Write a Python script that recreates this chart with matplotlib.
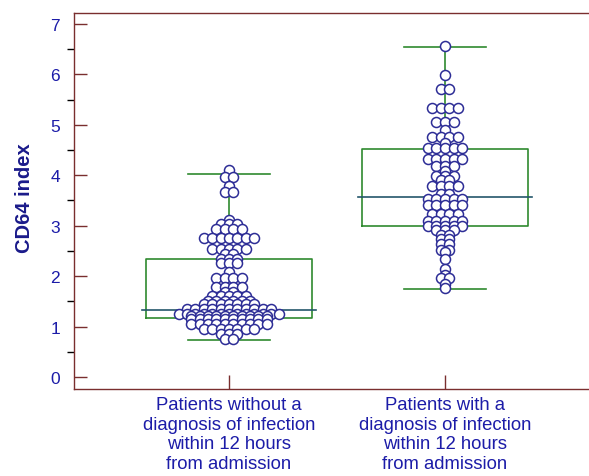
import numpy as np
import matplotlib
matplotlib.use("Agg")
import matplotlib.pyplot as plt

plt.rcParams["font.family"] = ["Liberation Sans", "DejaVu Sans"]

# CD64 index values; equal values share one row of dots
no_infection = (
    [4.11] + [3.97] * 2 + [3.79] + [3.67] * 2 + [3.11]
    + [3.03] * 3 + [2.93] * 4 + [2.75] * 7 + [2.54] * 5
    + [2.44] * 2 + [2.34] * 3 + [2.27] * 3 + [2.09]
    + [1.96] * 4 + [1.78] * 4 + [1.68] * 2 + [1.60] * 5
    + [1.51] * 6 + [1.45] * 7 + [1.35] * 11 + [1.25] * 13
    + [1.20] * 10 + [1.15] * 10 + [1.05] * 10 + [0.95] * 7
    + [0.85] * 3 + [0.75] * 2
)
with_infection = (
    [6.56, 5.99] + [5.71] * 2 + [5.33] * 4 + [5.05] * 3 + [4.90]
    + [4.75] * 4 + [4.65] + [4.54] * 5 + [4.32] * 5 + [4.19] * 3
    + [4.09] + [3.99] * 3 + [3.91] * 2 + [3.79] * 4 + [3.63] * 2
    + [3.53] * 5 + [3.42] * 5 + [3.23] * 4 + [3.10] * 5
    + [3.00] * 5 + [2.92] * 3 + [2.82] * 2 + [2.74] * 2 + [2.64] * 2
    + [2.52] * 2 + [2.47, 2.33, 2.14, 2.03] + [1.96] * 2 + [1.84, 1.76]
)
groups = [no_infection, with_infection]

# box statistics as drawn in the picture
q1 = [1.17, 3.00]
median = [1.33, 3.57]
q3 = [2.34, 4.52]
whis_lo = [0.73, 1.75]
whis_hi = [4.02, 6.55]

labels = ["Patients without a\ndiagnosis of infection\nwithin 12 hours\nfrom admission",
          "Patients with a\ndiagnosis of infection\nwithin 12 hours\nfrom admission"]

NAVY = "#2d2d96"
GREEN = "#2f8a2f"
SPINE = "#7a2e2e"
TXT = "#1c1ca8"

W, H = 589, 477
fig = plt.figure(figsize=(W / 100, H / 100), dpi=100)
ax = fig.add_axes([74 / W, 1 - 390 / H, 1 - 74 / W, (390 - 14) / H])
xlim = (0.2824, 2.6667)
ylim = (-0.238, 7.218)
ax.set_xlim(xlim)
ax.set_ylim(ylim)
pxx = (W - 74) / (xlim[1] - xlim[0])   # pixels per x unit

width = 0.764
stats = [dict(med=m, q1=a, q3=b, whislo=lo, whishi=hi, fliers=[])
         for m, a, b, lo, hi in zip(median, q1, q3, whis_lo, whis_hi)]
ax.bxp(stats, positions=[1, 2], widths=width, capwidths=width / 2,
       boxprops=dict(color=GREEN, lw=1.2), whiskerprops=dict(color=GREEN, lw=1.2),
       capprops=dict(color=GREEN, lw=1.2),
       medianprops=dict(color=GREEN, lw=0), zorder=1)
ext = 4 / pxx
for pos, m in zip([1, 2], median):
    ax.plot([pos - width / 2 - ext, pos + width / 2 + ext], [m, m],
            color="#24566b", lw=1.2, zorder=1.5)


def dot_rows(vals, step):
    # spread equal values side by side, centred on the group
    vals = np.asarray(vals)
    xs = np.zeros(len(vals))
    for v in np.unique(vals):
        idx = np.where(vals == v)[0]
        n = len(idx)
        xs[idx] = (np.arange(n) - (n - 1) / 2) * step
    return xs / pxx, vals


for pos, vals, step in zip([1, 2], groups, [8.4, 8.6]):
    dx, yv = dot_rows(vals, step)
    ax.scatter(pos + dx, yv, s=52, facecolor="white", edgecolor=NAVY, lw=1.1, zorder=3)

for s in ["left", "bottom", "top"]:
    ax.spines[s].set_color(SPINE)
    ax.spines[s].set_linewidth(1.0)
ax.spines["right"].set_visible(False)

ax.set_yticks(range(0, 8))
ax.set_yticks(np.arange(0.5, 7, 1.0), minor=True)
ax.set_xticks([1, 2])
ax.set_xticklabels(labels, linespacing=1.2, fontsize=13.3)
ax.tick_params(axis="both", direction="in", colors=SPINE, labelcolor=TXT)
ax.tick_params(axis="y", which="major", length=9, width=1.0, pad=10, labelsize=12.5)
ax.tick_params(axis="y", which="minor", length=5, width=1.0)
ax.tick_params(axis="x", length=10, width=1.0, pad=5)
ax.set_ylabel("CD64 index", color="#1a1a8a", fontsize=14.5, fontweight="bold")
ax.yaxis.set_label_coords(-0.078, 0.51)

fig.savefig("out.png", dpi=100)
